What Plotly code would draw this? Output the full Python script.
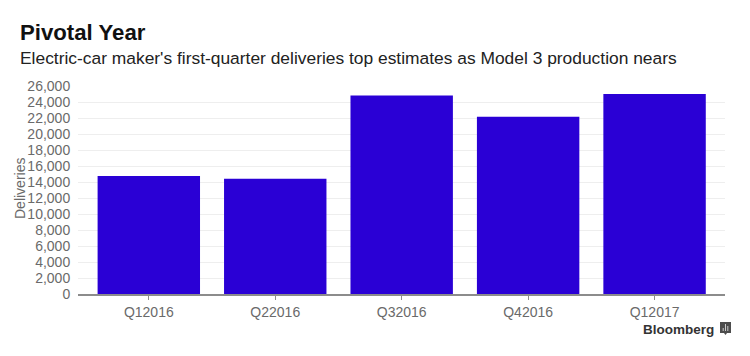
import plotly.graph_objects as go

categories = ["Q12016", "Q22016", "Q32016", "Q42016", "Q12017"]
deliveries = [14750, 14400, 24800, 22150, 25000]
y_ticks = list(range(0, 26001, 2000))
y_tick_labels = [f"{v:,}" for v in y_ticks]

OFF = 8  # page body margin
W, H = 750 - OFF, 356 - OFF
L, R, T, B = 78 - OFF, 725 - OFF, 86 - OFF, 294 - OFF


def px(x):
    return (x - OFF - L) / (R - L)


def py(y):
    return (B - (y - OFF)) / (B - T)


icon_bars = [(723.2, 331), (725.5, 327), (727.8, 329)]

fig = go.Figure(go.Bar(x=categories, y=deliveries, width=0.81,
                       marker=dict(color="#2A00D5", line=dict(width=0)),
                       hoverinfo="x+y"))

shapes = [
    dict(type="path", xref="paper", yref="paper",
         path=(f"M{px(720)},{py(322)} L{px(731)},{py(322)} L{px(731)},{py(333)} "
               f"L{px(727)},{py(333)} L{px(725.5)},{py(335)} L{px(724)},{py(333)} L{px(720)},{py(333)} Z"),
         fillcolor="#4d4d4d", line=dict(width=0)),
]
for bx, by in icon_bars:
    shapes.append(dict(type="rect", xref="paper", yref="paper",
                       x0=px(bx - 0.5), x1=px(bx + 0.5), y0=py(331), y1=py(by - 3),
                       fillcolor="#cccccc", line=dict(width=0)))

fig.update_layout(
    width=W, height=H, autosize=False, showlegend=False,
    paper_bgcolor="white", plot_bgcolor="white",
    font=dict(family="Liberation Sans, Arial, sans-serif", color="#666666"),
    margin=dict(l=L, r=W - R, t=T, b=H - B, pad=0),
    xaxis=dict(type="category", range=[-0.56, 4.557], showgrid=False, zeroline=False,
               showline=True, linecolor="#8c8c8c", linewidth=1.5,
               ticks="outside", ticklen=4, tickcolor="#8c8c8c", tickwidth=1,
               tickfont=dict(size=14, color="#6a6a6a")),
    yaxis=dict(range=[0, 26000], tickvals=y_ticks, ticktext=y_tick_labels,
               showgrid=True, gridcolor="#eeeeee", gridwidth=1, zeroline=False,
               showline=False, ticks="outside", ticklen=4, tickcolor="rgba(0,0,0,0)",
               tickfont=dict(size=14, color="#6a6a6a")),
    annotations=[
        dict(text="<b>Pivotal Year</b>", xref="paper", yref="paper", x=px(19),
             y=py(32), xanchor="left", yanchor="middle", showarrow=False, xshift=-1,
             font=dict(size=22.2, color="#111111")),
        dict(text="Electric-car maker's first-quarter deliveries top estimates as Model 3 production nears",
             xref="paper", yref="paper", x=px(19), y=py(58), xanchor="left", yanchor="middle",
             showarrow=False, xshift=-1, font=dict(size=17.4, color="#222222")),
        dict(text="Deliveries", xref="paper", yref="paper", x=px(20), y=py(189),
             xanchor="center", yanchor="middle", showarrow=False, textangle=-90,
             font=dict(size=14, color="#6a6a6a")),
        dict(text="<b>Bloomberg</b>", xref="paper", yref="paper", x=px(715), y=py(329),
             xanchor="right", yanchor="middle", showarrow=False, xshift=1,
             font=dict(size=13.5, color="#333333")),
    ],
    shapes=shapes,
)

fig.write_html("out.html")
